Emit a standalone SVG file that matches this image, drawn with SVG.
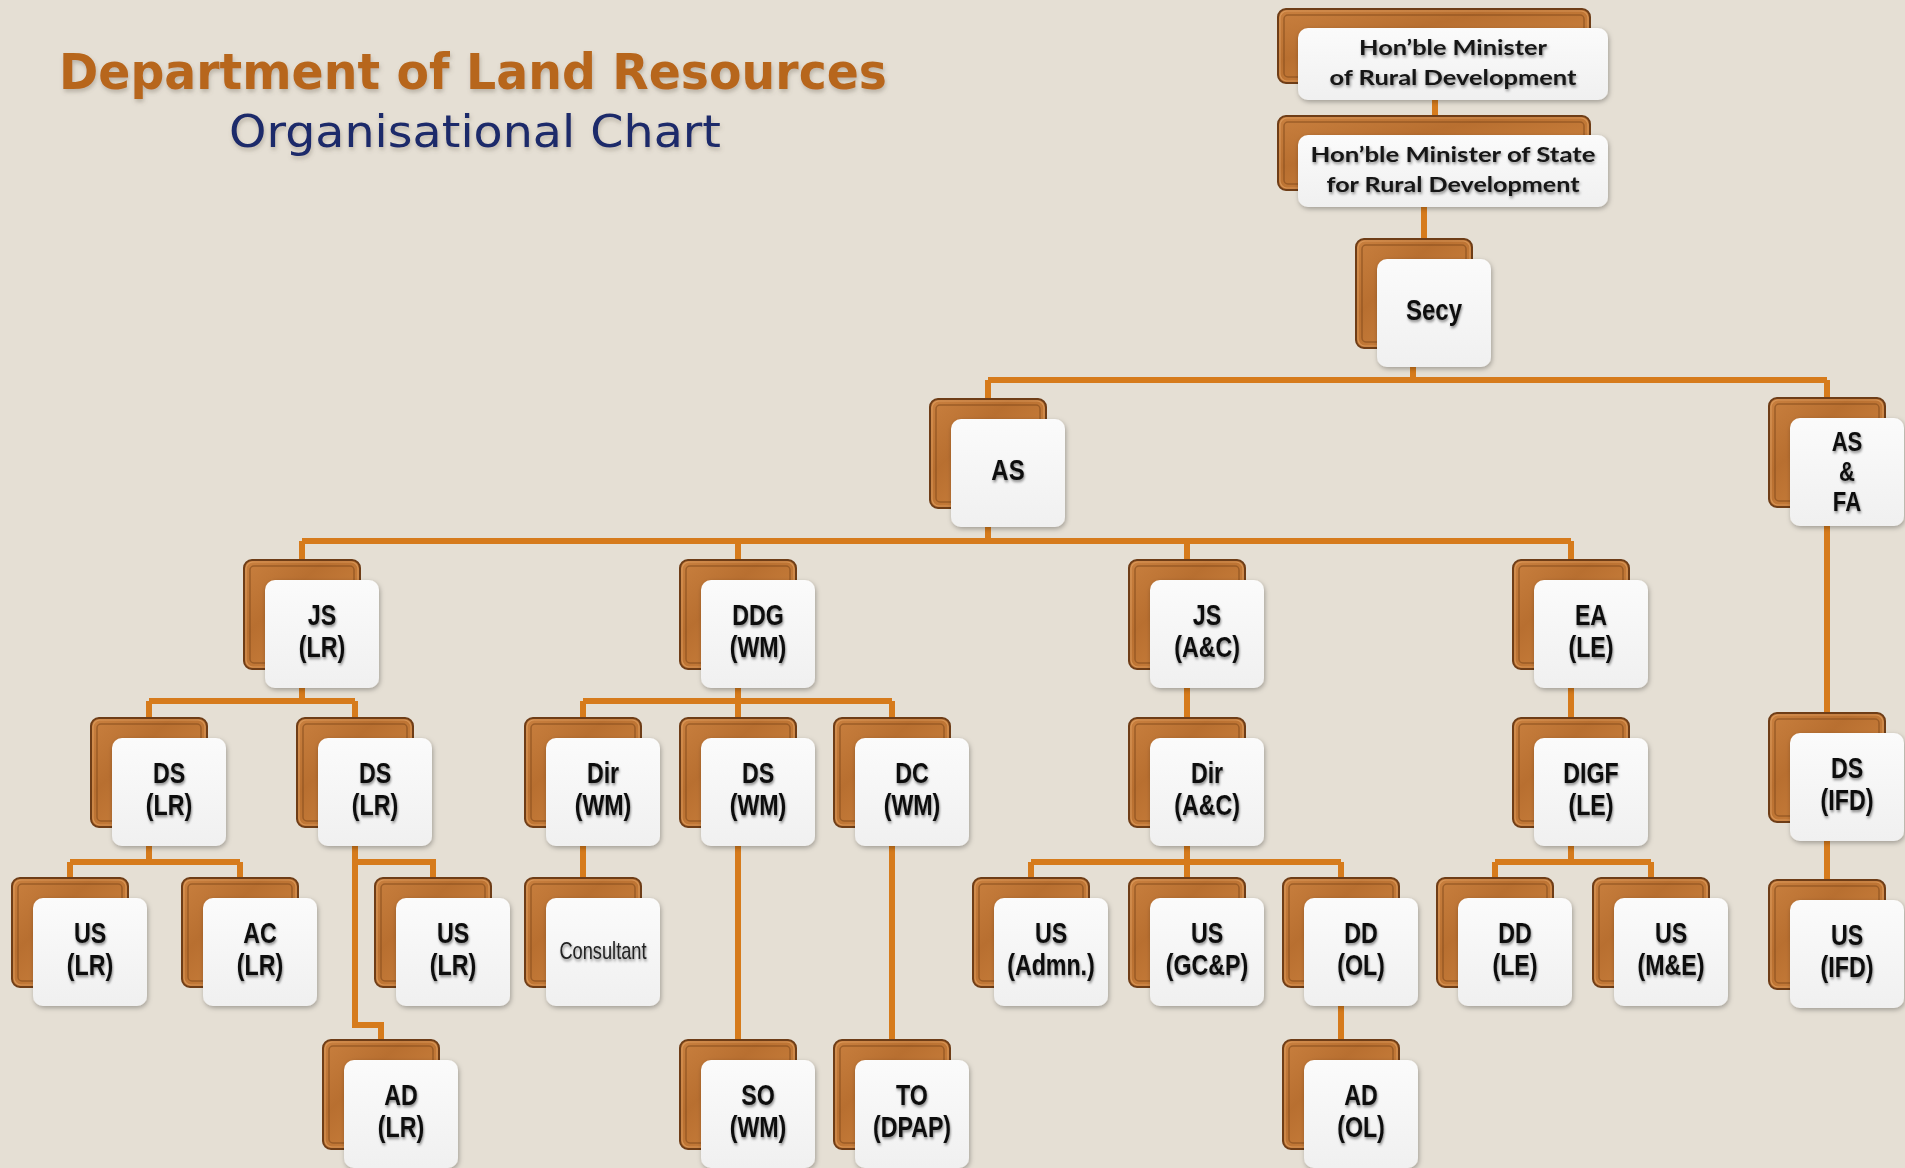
<svg xmlns="http://www.w3.org/2000/svg" xmlns:xlink="http://www.w3.org/1999/xlink" width="1905" height="1168" viewBox="0 0 1905 1168">
<style>
.bg{fill:#E5DFD4}
.wire{fill:none;stroke:#D67B1C;stroke-width:6;stroke-linejoin:miter;stroke-linecap:butt}
.wood{fill:url(#woodG);stroke:#6E3D17;stroke-width:2}
.bevel{fill:none;stroke:#8C5120;stroke-width:1.5;opacity:.7}
.hl{fill:none;stroke:#E6A86A;stroke-width:1.2;opacity:.6}
.paper{fill:url(#paperG);filter:url(#cardShadow)}
.t{font-family:"Liberation Sans",Arial,sans-serif;font-weight:bold;font-size:29px;fill:#111;text-anchor:middle;filter:url(#txtShadow)}
.t1{font-size:30px}
.t3{font-size:27px}
.tc{font-family:"Liberation Sans",Arial,sans-serif;font-weight:normal;font-size:24px;fill:#222;text-anchor:middle;filter:url(#txtShadow)}
.tm{font-family:Lato,"Open Sans","Liberation Sans",sans-serif;font-weight:bold;font-size:21px;fill:#151515;text-anchor:middle;filter:url(#txtShadow)}
.title{font-family:"DejaVu Sans",Verdana,sans-serif;font-weight:bold;font-size:49px;fill:#B7661A;filter:url(#titleShadow)}
.sub{font-family:"DejaVu Sans",Verdana,sans-serif;font-weight:normal;font-size:44px;fill:#1B2A6A;filter:url(#titleShadow)}
</style>
<defs>
<linearGradient id="woodG" x1="0" y1="0" x2="1" y2="1">
<stop offset="0" stop-color="#C9803F"/>
<stop offset="0.35" stop-color="#B86F30"/>
<stop offset="0.6" stop-color="#C47A38"/>
<stop offset="1" stop-color="#A2602A"/>
</linearGradient>
<linearGradient id="paperG" x1="0" y1="0" x2="0" y2="1">
<stop offset="0" stop-color="#FBFBFB"/>
<stop offset="1" stop-color="#F0F0F0"/>
</linearGradient>
<filter id="cardShadow" x="-20%" y="-20%" width="140%" height="140%">
<feDropShadow dx="1" dy="2" stdDeviation="2.5" flood-color="#000" flood-opacity="0.3"/>
</filter>
<filter id="txtShadow" x="-20%" y="-30%" width="140%" height="160%">
<feDropShadow dx="1" dy="2" stdDeviation="1.4" flood-color="#000" flood-opacity="0.45"/>
</filter>
<filter id="titleShadow" x="-5%" y="-20%" width="110%" height="150%">
<feDropShadow dx="1" dy="3" stdDeviation="2" flood-color="#6B6254" flood-opacity="0.35"/>
</filter>
<g id="card">
<rect class="wood" x="-21" y="-20" width="116" height="109" rx="8"/>
<rect class="bevel" x="-15" y="-14" width="104" height="97" rx="4"/>
<rect class="hl" x="-19" y="-18" width="112" height="105" rx="7"/>
<rect class="paper" x="0" y="0" width="114" height="108" rx="10"/>
</g>
<g id="wide">
<rect class="wood" x="-20" y="-19" width="312" height="74" rx="8"/>
<rect class="bevel" x="-14" y="-13" width="300" height="62" rx="4"/>
<rect class="hl" x="-18" y="-17" width="308" height="70" rx="7"/>
<rect class="paper" x="0" y="0" width="310" height="72" rx="10"/>
</g>
</defs>
<rect class="bg" x="0" y="0" width="1905" height="1168"/>

<g id="title">
<text class="title" x="59" y="89" textLength="828" lengthAdjust="spacingAndGlyphs">Department of Land Resources</text>
<text class="sub" x="229" y="147" textLength="492" lengthAdjust="spacingAndGlyphs">Organisational Chart</text>
</g>

<g id="connectors">
<path class="wire" d="M1435,98 V122"/>
<path class="wire" d="M1424,205 V243"/>
<path class="wire" d="M1413,363 V380 M988,380 H1827 M988,380 V402 M1827,380 V402"/>
<path class="wire" d="M988,524 V541 M302,541 H1571 M302,541 V564 M738,541 V564 M1187,541 V564 M1571,541 V564"/>
<path class="wire" d="M1827,524 V717"/>
<path class="wire" d="M302,686 V701 M149,701 H355 M149,701 V722 M355,701 V722"/>
<path class="wire" d="M738,686 V701 M583,701 H892 M583,701 V722 M738,701 V722 M892,701 V722"/>
<path class="wire" d="M1187,686 V722"/>
<path class="wire" d="M1571,686 V722"/>
<path class="wire" d="M149,844 V862 M70,862 H240 M70,862 V882 M240,862 V882"/>
<path class="wire" d="M355,844 V1025 H381 V1044 M355,862 H433 V882"/>
<path class="wire" d="M583,844 V882"/>
<path class="wire" d="M738,844 V1044"/>
<path class="wire" d="M892,844 V1044"/>
<path class="wire" d="M1187,844 V862 M1031,862 H1341 M1031,862 V882 M1187,862 V882 M1341,862 V882"/>
<path class="wire" d="M1571,844 V862 M1495,862 H1651 M1495,862 V882 M1651,862 V882"/>
<path class="wire" d="M1827,839 V884"/>
<path class="wire" d="M1341,1004 V1044"/>
</g>

<g id="n-minister" transform="translate(1298,28)">
<use xlink:href="#wide"/>
<text class="tm"><tspan x="155" y="27" textLength="188" lengthAdjust="spacingAndGlyphs">Hon’ble Minister</tspan><tspan x="155" y="57" textLength="247" lengthAdjust="spacingAndGlyphs">of Rural Development</tspan></text>
</g>
<g id="n-mos" transform="translate(1298,135)">
<use xlink:href="#wide"/>
<text class="tm"><tspan x="155" y="27" textLength="285" lengthAdjust="spacingAndGlyphs">Hon’ble Minister of State</tspan><tspan x="155" y="57" textLength="253" lengthAdjust="spacingAndGlyphs">for Rural Development</tspan></text>
</g>
<g id="n-secy" transform="translate(1377,259)">
<use xlink:href="#card"/>
<text class="t t1" transform="translate(57,0) scale(0.8,1)"><tspan x="0" y="61">Secy</tspan></text>
</g>
<g id="n-as" transform="translate(951,419)">
<use xlink:href="#card"/>
<text class="t t1" transform="translate(57,0) scale(0.8,1)"><tspan x="0" y="61">AS</tspan></text>
</g>
<g id="n-asfa" transform="translate(1790,418)">
<use xlink:href="#card"/>
<text class="t t3" transform="translate(57,0) scale(0.82,1)"><tspan x="0" y="33">AS</tspan><tspan x="0" y="63">&amp;</tspan><tspan x="0" y="93">FA</tspan></text>
</g>

<g id="n-js-lr" transform="translate(265,580)">
<use xlink:href="#card"/>
<text class="t" transform="translate(57,0) scale(0.8,1)"><tspan x="0" y="45">JS</tspan><tspan x="0" y="77">(LR)</tspan></text>
</g>
<g id="n-ddg-wm" transform="translate(701,580)">
<use xlink:href="#card"/>
<text class="t" transform="translate(57,0) scale(0.8,1)"><tspan x="0" y="45">DDG</tspan><tspan x="0" y="77">(WM)</tspan></text>
</g>
<g id="n-js-ac" transform="translate(1150,580)">
<use xlink:href="#card"/>
<text class="t" transform="translate(57,0) scale(0.8,1)"><tspan x="0" y="45">JS</tspan><tspan x="0" y="77">(A&amp;C)</tspan></text>
</g>
<g id="n-ea-le" transform="translate(1534,580)">
<use xlink:href="#card"/>
<text class="t" transform="translate(57,0) scale(0.8,1)"><tspan x="0" y="45">EA</tspan><tspan x="0" y="77">(LE)</tspan></text>
</g>

<g id="n-ds-lr-1" transform="translate(112,738)">
<use xlink:href="#card"/>
<text class="t" transform="translate(57,0) scale(0.8,1)"><tspan x="0" y="45">DS</tspan><tspan x="0" y="77">(LR)</tspan></text>
</g>
<g id="n-ds-lr-2" transform="translate(318,738)">
<use xlink:href="#card"/>
<text class="t" transform="translate(57,0) scale(0.8,1)"><tspan x="0" y="45">DS</tspan><tspan x="0" y="77">(LR)</tspan></text>
</g>
<g id="n-dir-wm" transform="translate(546,738)">
<use xlink:href="#card"/>
<text class="t" transform="translate(57,0) scale(0.8,1)"><tspan x="0" y="45">Dir</tspan><tspan x="0" y="77">(WM)</tspan></text>
</g>
<g id="n-ds-wm" transform="translate(701,738)">
<use xlink:href="#card"/>
<text class="t" transform="translate(57,0) scale(0.8,1)"><tspan x="0" y="45">DS</tspan><tspan x="0" y="77">(WM)</tspan></text>
</g>
<g id="n-dc-wm" transform="translate(855,738)">
<use xlink:href="#card"/>
<text class="t" transform="translate(57,0) scale(0.8,1)"><tspan x="0" y="45">DC</tspan><tspan x="0" y="77">(WM)</tspan></text>
</g>
<g id="n-dir-ac" transform="translate(1150,738)">
<use xlink:href="#card"/>
<text class="t" transform="translate(57,0) scale(0.8,1)"><tspan x="0" y="45">Dir</tspan><tspan x="0" y="77">(A&amp;C)</tspan></text>
</g>
<g id="n-digf-le" transform="translate(1534,738)">
<use xlink:href="#card"/>
<text class="t" transform="translate(57,0) scale(0.8,1)"><tspan x="0" y="45">DIGF</tspan><tspan x="0" y="77">(LE)</tspan></text>
</g>
<g id="n-ds-ifd" transform="translate(1790,733)">
<use xlink:href="#card"/>
<text class="t" transform="translate(57,0) scale(0.8,1)"><tspan x="0" y="45">DS</tspan><tspan x="0" y="77">(IFD)</tspan></text>
</g>

<g id="n-us-lr-1" transform="translate(33,898)">
<use xlink:href="#card"/>
<text class="t" transform="translate(57,0) scale(0.8,1)"><tspan x="0" y="45">US</tspan><tspan x="0" y="77">(LR)</tspan></text>
</g>
<g id="n-ac-lr" transform="translate(203,898)">
<use xlink:href="#card"/>
<text class="t" transform="translate(57,0) scale(0.8,1)"><tspan x="0" y="45">AC</tspan><tspan x="0" y="77">(LR)</tspan></text>
</g>
<g id="n-us-lr-2" transform="translate(396,898)">
<use xlink:href="#card"/>
<text class="t" transform="translate(57,0) scale(0.8,1)"><tspan x="0" y="45">US</tspan><tspan x="0" y="77">(LR)</tspan></text>
</g>
<g id="n-consultant" transform="translate(546,898)">
<use xlink:href="#card"/>
<text class="tc" transform="translate(57,0) scale(0.76,1)"><tspan x="0" y="61">Consultant</tspan></text>
</g>
<g id="n-us-admn" transform="translate(994,898)">
<use xlink:href="#card"/>
<text class="t" transform="translate(57,0) scale(0.8,1)"><tspan x="0" y="45">US</tspan><tspan x="0" y="77">(Admn.)</tspan></text>
</g>
<g id="n-us-gcp" transform="translate(1150,898)">
<use xlink:href="#card"/>
<text class="t" transform="translate(57,0) scale(0.8,1)"><tspan x="0" y="45">US</tspan><tspan x="0" y="77">(GC&amp;P)</tspan></text>
</g>
<g id="n-dd-ol" transform="translate(1304,898)">
<use xlink:href="#card"/>
<text class="t" transform="translate(57,0) scale(0.8,1)"><tspan x="0" y="45">DD</tspan><tspan x="0" y="77">(OL)</tspan></text>
</g>
<g id="n-dd-le" transform="translate(1458,898)">
<use xlink:href="#card"/>
<text class="t" transform="translate(57,0) scale(0.8,1)"><tspan x="0" y="45">DD</tspan><tspan x="0" y="77">(LE)</tspan></text>
</g>
<g id="n-us-me" transform="translate(1614,898)">
<use xlink:href="#card"/>
<text class="t" transform="translate(57,0) scale(0.8,1)"><tspan x="0" y="45">US</tspan><tspan x="0" y="77">(M&amp;E)</tspan></text>
</g>
<g id="n-us-ifd" transform="translate(1790,900)">
<use xlink:href="#card"/>
<text class="t" transform="translate(57,0) scale(0.8,1)"><tspan x="0" y="45">US</tspan><tspan x="0" y="77">(IFD)</tspan></text>
</g>

<g id="n-ad-lr" transform="translate(344,1060)">
<use xlink:href="#card"/>
<text class="t" transform="translate(57,0) scale(0.8,1)"><tspan x="0" y="45">AD</tspan><tspan x="0" y="77">(LR)</tspan></text>
</g>
<g id="n-so-wm" transform="translate(701,1060)">
<use xlink:href="#card"/>
<text class="t" transform="translate(57,0) scale(0.8,1)"><tspan x="0" y="45">SO</tspan><tspan x="0" y="77">(WM)</tspan></text>
</g>
<g id="n-to-dpap" transform="translate(855,1060)">
<use xlink:href="#card"/>
<text class="t" transform="translate(57,0) scale(0.8,1)"><tspan x="0" y="45">TO</tspan><tspan x="0" y="77">(DPAP)</tspan></text>
</g>
<g id="n-ad-ol" transform="translate(1304,1060)">
<use xlink:href="#card"/>
<text class="t" transform="translate(57,0) scale(0.8,1)"><tspan x="0" y="45">AD</tspan><tspan x="0" y="77">(OL)</tspan></text>
</g>
</svg>
